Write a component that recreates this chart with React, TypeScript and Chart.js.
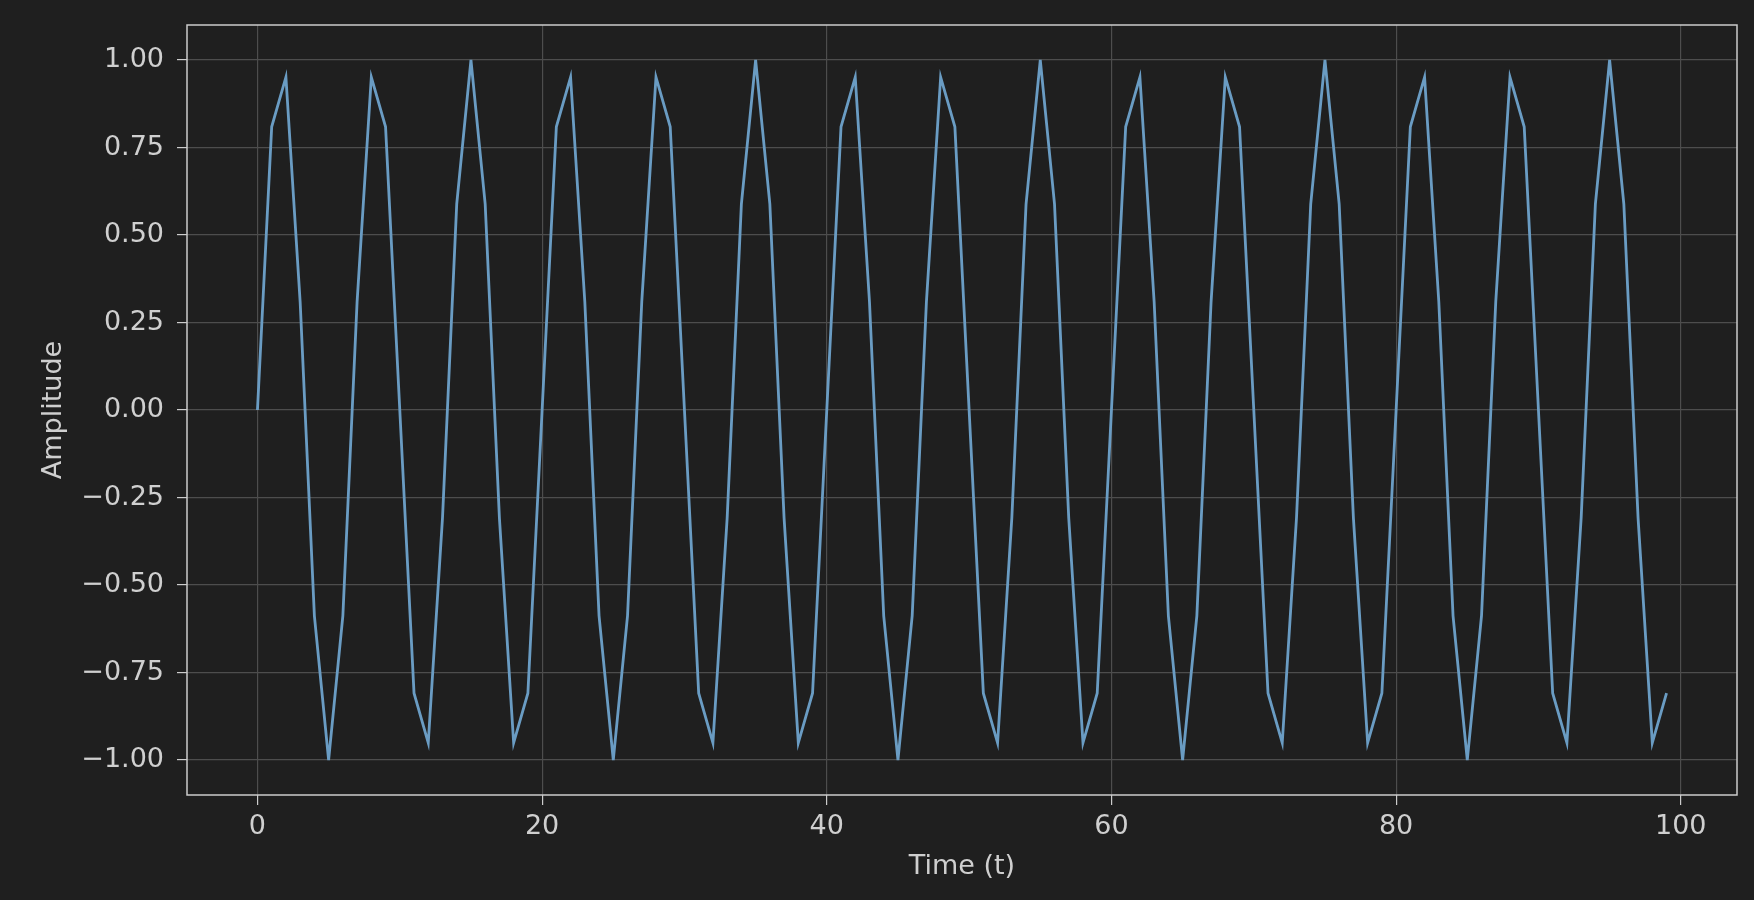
import React, { useEffect, useRef } from "react";
import { Chart, registerables } from "chart.js";

Chart.register(...registerables);

const amplitude: number[] = [
  0, 0.809, 0.951, 0.309, -0.588, -1.0, -0.588, 0.309, 0.951, 0.809,
  0, -0.809, -0.951, -0.309, 0.588, 1.0, 0.588, -0.309, -0.951, -0.809,
  0, 0.809, 0.951, 0.309, -0.588, -1.0, -0.588, 0.309, 0.951, 0.809,
  0, -0.809, -0.951, -0.309, 0.588, 1.0, 0.588, -0.309, -0.951, -0.809,
  0, 0.809, 0.951, 0.309, -0.588, -1.0, -0.588, 0.309, 0.951, 0.809,
  0, -0.809, -0.951, -0.309, 0.588, 1.0, 0.588, -0.309, -0.951, -0.809,
  0, 0.809, 0.951, 0.309, -0.588, -1.0, -0.588, 0.309, 0.951, 0.809,
  0, -0.809, -0.951, -0.309, 0.588, 1.0, 0.588, -0.309, -0.951, -0.809,
  0, 0.809, 0.951, 0.309, -0.588, -1.0, -0.588, 0.309, 0.951, 0.809,
  0, -0.809, -0.951, -0.309, 0.588, 1.0, 0.588, -0.309, -0.951, -0.809,
];

const timeSteps: number[] = amplitude.map((_, i) => i);
const xTicks: number[] = [0, 20, 40, 60, 80, 100];
const yTicks: number[] = [-1.0, -0.75, -0.5, -0.25, 0, 0.25, 0.5, 0.75, 1.0];

const BG = "#1f1f1f";
const TEXT = "#cfcfcf";
const GRID = "#4d4d4d";
const SPINE = "#cccccc";
const LINE = "#6a9cc3";
const FONT = "'DejaVu Sans', sans-serif";

export default function App() {
  const ref = useRef<HTMLCanvasElement | null>(null);

  useEffect(() => {
    if (!ref.current) return;
    const data = timeSteps.map((t, i) => ({ x: t, y: amplitude[i] }));
    const border = {
      id: "spines",
      afterDatasetsDraw(chart: any) {
        const { ctx, chartArea } = chart;
        ctx.save();
        ctx.strokeStyle = SPINE;
        ctx.lineWidth = 1.5;
        ctx.strokeRect(chartArea.left, chartArea.top, chartArea.right - chartArea.left, chartArea.bottom - chartArea.top);
        ctx.restore();
      },
    };
    const bgPlugin = {
      id: "bg",
      beforeDraw(chart: any) {
        const { ctx, width, height } = chart;
        ctx.save();
        ctx.fillStyle = BG;
        ctx.fillRect(0, 0, width, height);
        ctx.restore();
      },
    };
    const chart = new Chart(ref.current, {
      type: "line",
      data: {
        datasets: [
          {
            label: "Amplitude",
            data,
            borderColor: LINE,
            borderWidth: 2.8,
            pointRadius: 0,
            tension: 0,
            fill: false,
          },
        ],
      },
      options: {
        animation: false,
        responsive: false,
        maintainAspectRatio: false,
        layout: { padding: { left: 0, top: 25, right: 17, bottom: 0 } },
        plugins: { legend: { display: false }, tooltip: { enabled: false } },
        scales: {
          x: {
            type: "linear",
            min: -4.95,
            max: 103.95,
            afterFit: (s: any) => { s.height = 105; s.paddingLeft = 0; s.paddingRight = 0; },
            afterBuildTicks: (s: any) => { s.ticks = xTicks.map((v) => ({ value: v })); },
            ticks: {
              color: TEXT,
              font: { family: FONT, size: 27 },
              padding: 6,
              maxRotation: 0,
              callback: (v: any) => String(v),
            },
            grid: { color: GRID, lineWidth: 1.2, tickLength: 10, tickColor: SPINE, drawOnChartArea: true },
            border: { display: false },
            title: {
              display: true,
              text: "Time (t)",
              color: TEXT,
              font: { family: FONT, size: 27 },
              padding: { top: 0, bottom: 17 },
            },
          },
          y: {
            type: "linear",
            min: -1.1,
            max: 1.1,
            afterFit: (s: any) => { s.width = 187; s.paddingTop = 0; s.paddingBottom = 0; },
            afterBuildTicks: (s: any) => { s.ticks = yTicks.map((v) => ({ value: v })); },
            ticks: {
              color: TEXT,
              font: { family: FONT, size: 27 },
              padding: 13,
              callback: (v: any) => {
                const n = Number(v);
                const s = Math.abs(n).toFixed(2);
                return n < 0 ? "\u2212" + s : s;
              },
            },
            grid: { color: GRID, lineWidth: 1.2, tickLength: 10, tickColor: SPINE, drawOnChartArea: true },
            border: { display: false },
            title: {
              display: true,
              text: "Amplitude",
              color: TEXT,
              font: { family: FONT, size: 27 },
              padding: { top: 38, bottom: 0 },
            },
          },
        },
      },
      plugins: [bgPlugin, border],
    } as any);
    return () => chart.destroy();
  }, []);

  return (
    <div style={{ position: "fixed", left: 0, top: 0, width: 1754, height: 900, background: BG }}>
      <canvas ref={ref} width={1754} height={900} style={{ width: 1754, height: 900, display: "block" }} />
    </div>
  );
}
